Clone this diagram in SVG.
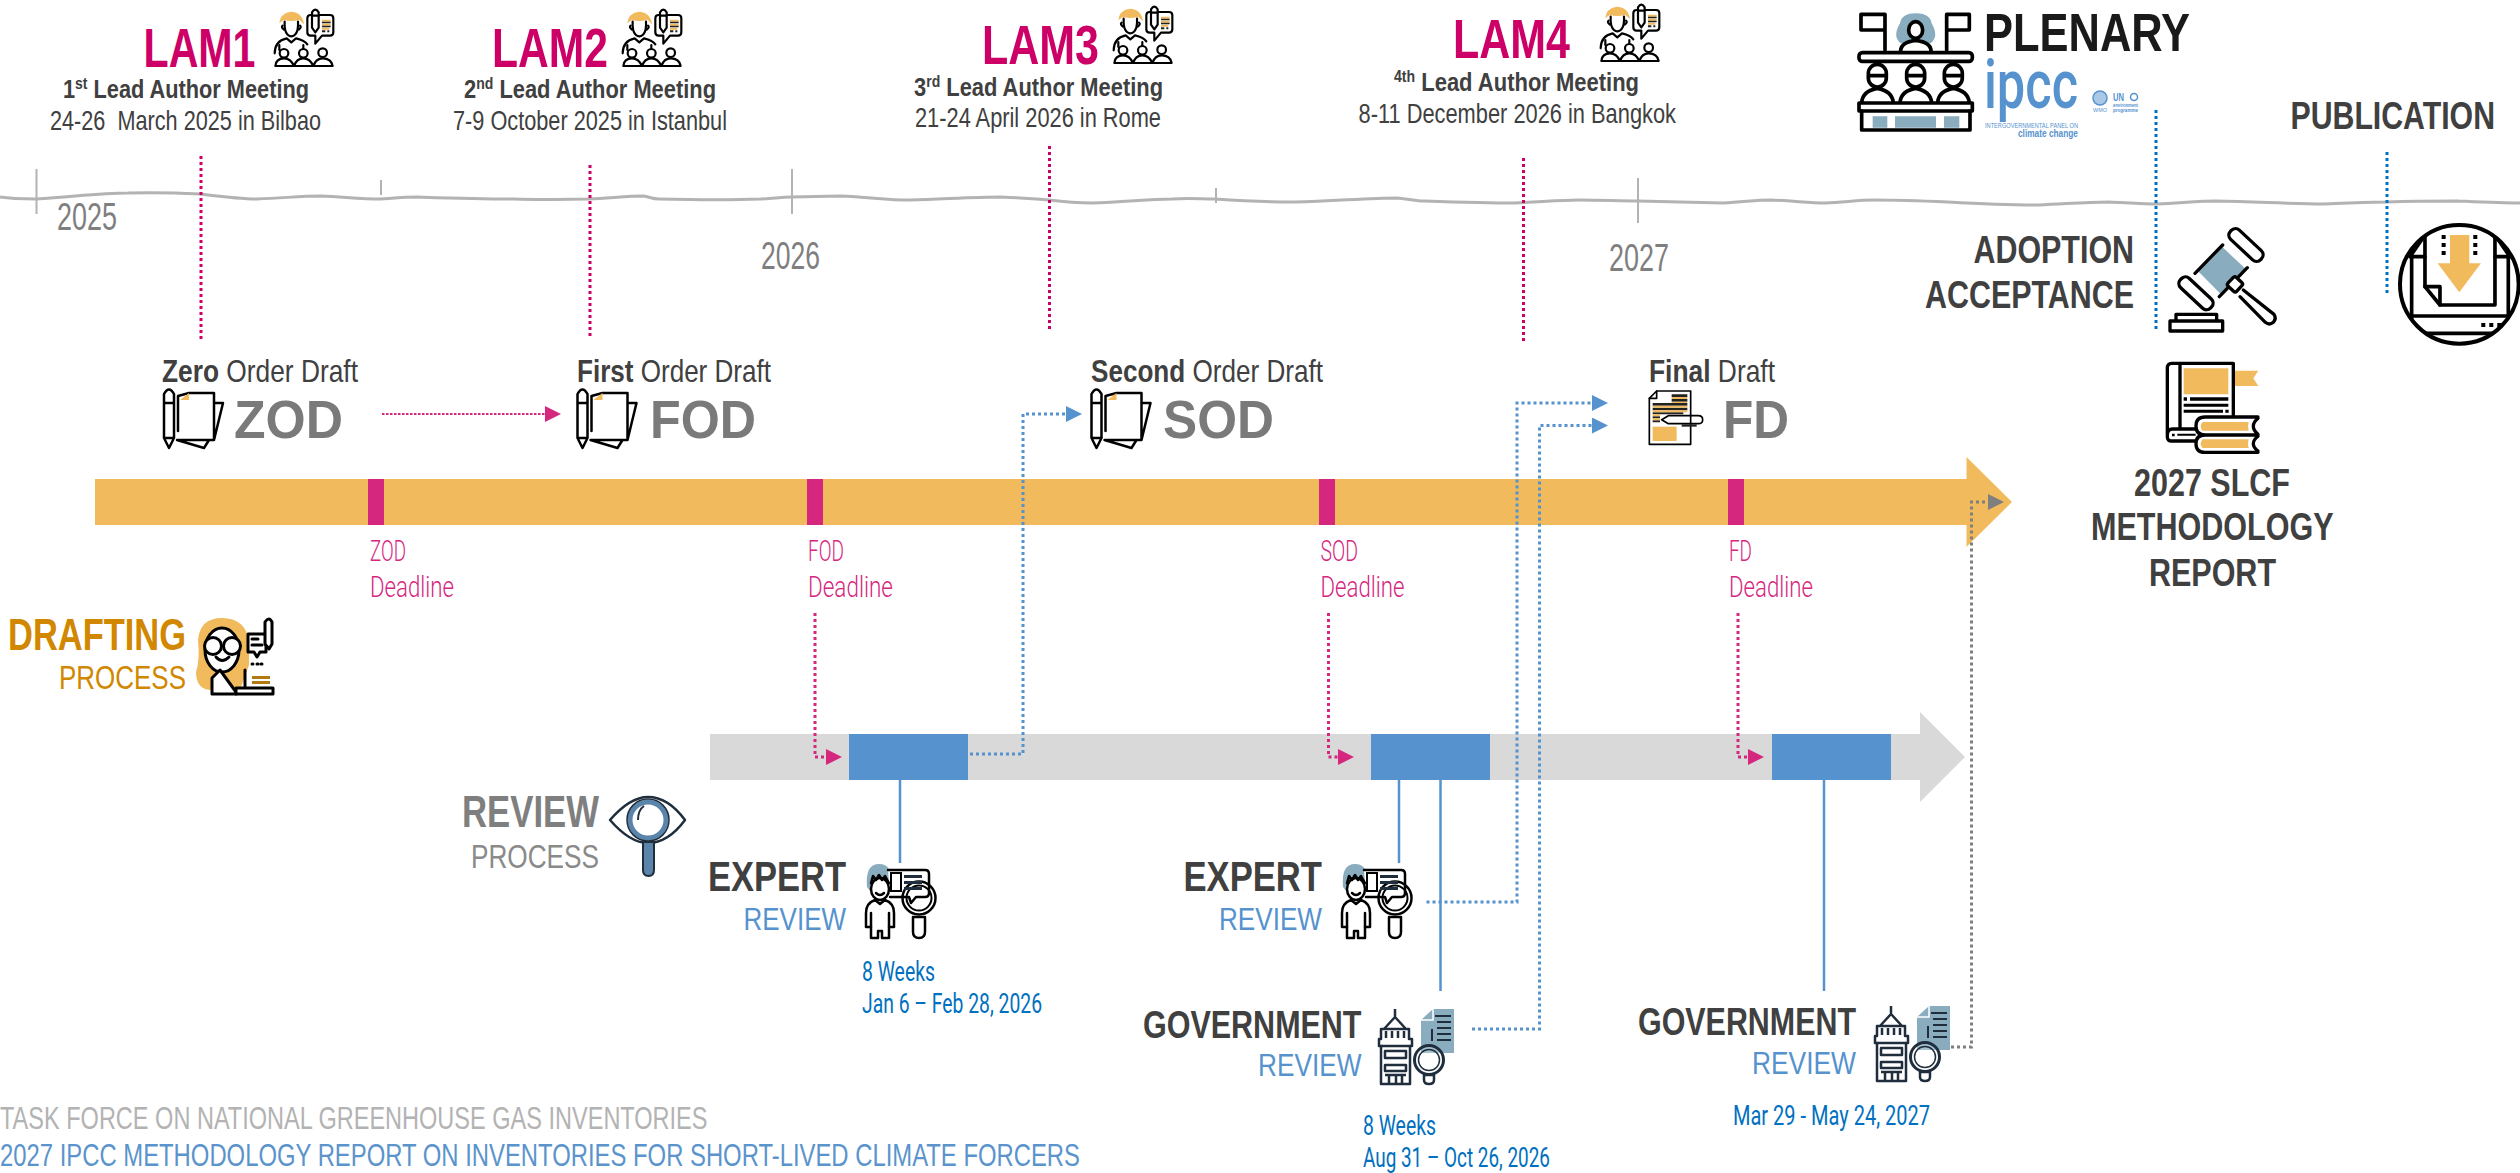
<svg xmlns="http://www.w3.org/2000/svg" xmlns:xlink="http://www.w3.org/1999/xlink" width="2520" height="1173" viewBox="0 0 2520 1173">
<style>
text{font-family:"Liberation Sans",Arial,sans-serif;fill:#404040}
.lam{font-size:55px;font-weight:700;fill:#cc0066}
.lb{font-size:26.500px;font-weight:700}
.ld{font-size:27.500px}
.yr{font-size:39px;fill:#7f7f7f}
.od{font-size:32px}
.b{font-weight:700}
.code{font-size:54px;font-weight:700;fill:#7a7a7a}
.dl{font-family:Roboto,"Liberation Sans",sans-serif;font-size:30px;font-weight:300;fill:#d6277f}
.dt{font-family:Roboto,"Liberation Sans",sans-serif;font-size:27px;font-weight:400;fill:#0070c0}
.h{font-size:42px;font-weight:700}
.h2{font-size:38.500px;font-weight:700}
.rv{font-size:32px;fill:#5592ce}
.ln{fill:none;stroke:#000;stroke-width:3;stroke-linejoin:round;stroke-linecap:round}
.ic{fill:none;stroke:#000;stroke-width:11;stroke-linejoin:round;stroke-linecap:round}
.org{fill:#f1bb5d}
.sl{fill:#8aacbf}
.dp{fill:none;stroke:#cc0066;stroke-width:3;stroke-dasharray:3 3}
.db{fill:none;stroke:#0070c0;stroke-width:3;stroke-dasharray:3 3}
.dpk{fill:none;stroke:#d6277f;stroke-width:3;stroke-dasharray:3 3}
.dpf{fill:none;stroke:#d6277f;stroke-width:2;stroke-dasharray:2.500 1.500}
.dbl{fill:none;stroke:#5592ce;stroke-width:3;stroke-dasharray:3 3}
.dgr{fill:none;stroke:#7f7f7f;stroke-width:3;stroke-dasharray:3 3}
.sol{fill:none;stroke:#5592ce;stroke-width:2.500}
.dk{fill:none;stroke:#1f2d3d;stroke-width:2.500;stroke-linejoin:round}
</style>
<defs>
<marker id="mp" markerUnits="userSpaceOnUse" markerWidth="16" markerHeight="16" refX="0" refY="8" orient="auto"><path d="M0 0L16 8L0 16Z" fill="#d6277f"/></marker>
<marker id="mb" markerUnits="userSpaceOnUse" markerWidth="16" markerHeight="16" refX="0" refY="8" orient="auto"><path d="M0 0L16 8L0 16Z" fill="#5592ce"/></marker>
<marker id="mg" markerUnits="userSpaceOnUse" markerWidth="16" markerHeight="16" refX="0" refY="8" orient="auto"><path d="M0 0L16 8L0 16Z" fill="#7f7f7f"/></marker>
<g id="i-lam" transform="scale(.3333)">
<path class="org" d="M28 55Q30 25 62 20Q98 22 102 58L88 44Q62 52 42 44Z"/>
<g class="ic" style="stroke-width:6.500">
<path d="M44 50Q42 92 64 94Q86 92 84 50"/>
<path d="M38 62Q32 66 42 74M90 62Q96 66 86 74"/>
<path d="M14 145Q14 108 50 100L64 112L78 100Q104 106 112 118"/>
<path d="M28 135V120M100 120V135"/>
<path d="M122 30H180Q190 30 190 40V82Q190 92 180 92H156L136 116V92H122Q112 92 112 82V40Q112 30 122 30Z" fill="#fff"/>
<path d="M126 22Q136 6 146 22V68L136 82L126 68Z" fill="#fff"/>
<path d="M126 32H146"/>
<circle cx="42" cy="145" r="13" fill="#fff"/><circle cx="100" cy="145" r="13" fill="#fff"/><circle cx="158" cy="143" r="13" fill="#fff"/>
<path d="M16 183Q18 160 42 160Q62 160 72 183Q80 160 100 160Q120 160 130 183Q138 160 158 160Q184 160 188 183Z" fill="#fff"/>
</g>
<path class="org" d="M156 44H182V50H156ZM156 56H182V62H156ZM156 68H178V74H156Z"/>
<path d="M156 50H182V55H156ZM156 62H182V67H156ZM156 76H166V82H156ZM172 76H178V82H172Z" fill="#222"/>
</g>
<g id="i-doc">
<path class="ln" style="stroke-width:2.500" d="M15 43V8L26 5L51 5V52H14L41 60L46 52M51 15L60 15L51 52" fill="#fff"/>
<path d="M1 6Q6 -3 11 6V50H1Z M1 50L6 60L11 50Z" fill="#fff" stroke="#000" stroke-width="2.500" stroke-linejoin="round"/>
<path d="M1 15H11" stroke="#000" stroke-width="2.500"/>
<path class="org" d="M17 12L26 5V12Z"/>
</g>
<g id="i-exp">
<path class="sl" d="M3 24Q1 1 15 1Q29 1 28 22L26 28H6Z"/>
<g class="ln" style="stroke-width:2.500">
<path d="M24 7H61Q65 7 65 11V30Q65 34 61 34H52L47 40L45 34H26" fill="#fff"/>
<ellipse cx="16" cy="26" rx="9" ry="11" fill="#fff"/>
<path d="M7 20L9 13L12 17L15 12L18 17L21 13L25 20"/>
<path d="M12 30Q16 34 20 30"/>
<path d="M2 64V50Q2 40 11 37L16 41L21 37Q30 40 30 50V64H25V75H18V68H14V75H7V64Z" fill="#fff"/>
<path d="M7 50V64M25 50V64"/>
<circle cx="55" cy="35" r="16.500"/>
<circle cx="55" cy="35" r="12.500" stroke-width="2"/>
<path d="M49 54H61V69Q61 75 55 75Q49 75 49 69Z" fill="#fff"/>
</g>
<path d="M40 12H58V15H40ZM40 18H58V21H40ZM40 24H58V27H40Z" fill="#1f2d3d"/>
<path d="M27 10H37V28H27Z" fill="none" stroke="#000" stroke-width="2"/>
</g>
<g id="i-gov">
<path class="sl" d="M56 0H77V44H44V11Z"/>
<path d="M44 11H56V0" fill="none" stroke="#fff" stroke-width="1.500"/>
<path d="M58 6H74V8H58ZM60 12H74V14H60ZM60 18H74V20H60ZM60 24H74V26H60ZM60 30H74V32H60ZM54 20H56V32H54Z" fill="#1f2d3d"/>
<g class="dk">
<path d="M18 0V9M7 20L18 8L29 20ZM4 30V20H32V30H35V37H33V75H4V37H2V30Z" fill="#fff"/>
<path d="M9 22V29M15 22V29M21 22V29M27 22V29M4 37H33M8 42H29V49H8ZM8 56H29V62H8ZM8 66H29M12 66V75M19 66V75M25 66V75"/>
<circle cx="52" cy="51" r="14.500" stroke-width="3" fill="#fff" fill-opacity=".25"/>
<circle cx="52" cy="51" r="10.500" stroke-width="1.500"/>
<path d="M47 66H57V71Q57 75 52 75Q47 75 47 71Z" fill="#fff"/>
</g>
</g>
</defs>
<rect width="2520" height="1173" fill="#fff"/>

<g id="timeline">
<path fill="none" stroke="#b3b3b3" stroke-width="3" d="M0 197C12 199 25 199 36 199C80 196 100 193 128 193C160 192 180 193 200 194C225 197 240 199 257 199C285 198 300 196 321 196C345 197 360 199 381 199C395 198 405 197 418 197C450 198 480 199 514 199C545 200 570 199 589 199C610 198 630 196 643 196C650 197 652 199 659 199C700 200 735 200 761 199C775 198 785 197 792 197L840 196C870 197 885 200 910 200C945 199 975 197 1001 197C1025 198 1035 199 1049 200C1065 202 1078 203 1092 203C1125 202 1150 199 1172 199C1190 198 1200 199 1215 199C1245 201 1270 202 1295 202C1335 201 1370 198 1397 198C1410 199 1415 201 1424 201C1455 202 1490 203 1515 203C1540 202 1560 200 1579 200C1600 200 1620 201 1638 201L1680 202L1723 203C1745 202 1755 200 1771 200C1795 201 1810 203 1825 203C1845 202 1860 200 1873 200C1900 200 1925 201 1948 202C1985 204 2015 205 2039 205C2065 204 2085 202 2109 202C2130 203 2145 204 2157 204C2180 203 2200 201 2216 201C2260 202 2295 204 2323 204C2350 203 2370 202 2387 202C2415 201 2440 201 2457 201C2480 202 2500 203 2520 203"/>
<path fill="none" stroke="#b3b3b3" stroke-width="2" d="M36.500 169V214M381 180V195M792 169V214M1216 188V203M1638 178V223"/>
<text class="yr" x="57" y="230" textLength="60" lengthAdjust="spacingAndGlyphs">2025</text>
<text class="yr" x="761" y="269" textLength="59" lengthAdjust="spacingAndGlyphs">2026</text>
<text class="yr" x="1609" y="271" textLength="60" lengthAdjust="spacingAndGlyphs">2027</text>
</g>

<g id="drafting-bar">
<path fill="#f1bb5d" d="M95 479H1966.500V457L2012 502L1966.500 547V525H95Z"/>
<rect x="368" y="479" width="16" height="46" fill="#d6277f"/>
<rect x="807" y="479" width="16" height="46" fill="#d6277f"/>
<rect x="1319" y="479" width="16" height="46" fill="#d6277f"/>
<rect x="1728" y="479" width="16" height="46" fill="#d6277f"/>
</g>
<g id="review-bar">
<path fill="#d9d9d9" d="M710 734H1920V712L1965 757L1920 802V780H710Z"/>
<rect x="849" y="734" width="119" height="46" fill="#5592ce"/>
<rect x="1371" y="734" width="119" height="46" fill="#5592ce"/>
<rect x="1772" y="734" width="119" height="46" fill="#5592ce"/>
</g>

<g id="connectors">
<path class="dp" d="M201 156V340M590 165V337M1049.500 146V330M1523.500 158V341"/>
<path class="db" d="M2156 110V330M2387 152V293"/>
<path class="dpf" d="M382 414H545" marker-end="url(#mp)"/>
<path class="dpk" d="M815 613V757H826" marker-end="url(#mp)"/>
<path class="dpk" d="M1328.500 613V757H1338" marker-end="url(#mp)"/>
<path class="dpk" d="M1738 613V757H1748" marker-end="url(#mp)"/>
<path class="dbl" d="M970 754H1023V414H1066" marker-end="url(#mb)"/>
<path class="dbl" d="M1426.500 902H1517V403H1592" marker-end="url(#mb)"/>
<path class="dbl" d="M1472 1029H1539.500V425.500H1592" marker-end="url(#mb)"/>
<path class="dgr" d="M1945 1047H1971.500V502H1988" marker-end="url(#mg)"/>
<path class="sol" d="M900 780V863M1399 780V863M1440.500 780V991M1824 780V991"/>
</g>

<g id="lam1"><use href="#i-lam" transform="translate(270 5)"/>
<text class="lam" x="143.500" y="67" textLength="112" lengthAdjust="spacingAndGlyphs">LAM1</text>
<text class="lb" x="63" y="98" textLength="246" lengthAdjust="spacingAndGlyphs">1<tspan font-size="17" dy="-9">st</tspan><tspan dy="9"> Lead Author Meeting</tspan></text>
<text class="ld" x="50" y="130" textLength="271" lengthAdjust="spacingAndGlyphs" xml:space="preserve">24-26  March 2025 in Bilbao</text></g>
<g id="lam2"><use href="#i-lam" transform="translate(618 5)"/>
<text class="lam" x="492" y="67" textLength="116" lengthAdjust="spacingAndGlyphs">LAM2</text>
<text class="lb" x="464" y="98" textLength="252" lengthAdjust="spacingAndGlyphs">2<tspan font-size="17" dy="-9">nd</tspan><tspan dy="9"> Lead Author Meeting</tspan></text>
<text class="ld" x="453" y="130" textLength="274" lengthAdjust="spacingAndGlyphs">7-9 October 2025 in Istanbul</text></g>
<g id="lam3"><use href="#i-lam" transform="translate(1109 2)"/>
<text class="lam" x="982" y="64" textLength="117" lengthAdjust="spacingAndGlyphs">LAM3</text>
<text class="lb" x="914" y="96" textLength="249" lengthAdjust="spacingAndGlyphs">3<tspan font-size="17" dy="-9">rd</tspan><tspan dy="9"> Lead Author Meeting</tspan></text>
<text class="ld" x="915" y="127" textLength="246" lengthAdjust="spacingAndGlyphs">21-24 April 2026 in Rome</text></g>
<g id="lam4"><use href="#i-lam" transform="translate(1596 0)"/>
<text class="lam" x="1453" y="58" textLength="117" lengthAdjust="spacingAndGlyphs">LAM4</text>
<text class="lb" x="1394" y="91" textLength="245" lengthAdjust="spacingAndGlyphs"><tspan font-size="17" dy="-9">4th</tspan><tspan dy="9"> Lead Author Meeting</tspan></text>
<text class="ld" x="1358.500" y="123" textLength="317.500" lengthAdjust="spacingAndGlyphs">8-11 December 2026 in Bangkok</text></g>

<g id="zod"><text class="od" x="162" y="382" textLength="196" lengthAdjust="spacingAndGlyphs"><tspan class="b">Zero</tspan> Order Draft</text>
<use href="#i-doc" transform="translate(163 388)"/>
<text class="code" x="234" y="438" textLength="109" lengthAdjust="spacingAndGlyphs">ZOD</text></g>
<g id="fod"><text class="od" x="577" y="382" textLength="194" lengthAdjust="spacingAndGlyphs"><tspan class="b">First</tspan> Order Draft</text>
<use href="#i-doc" transform="translate(576.500 388)"/>
<text class="code" x="650" y="438" textLength="106" lengthAdjust="spacingAndGlyphs">FOD</text></g>
<g id="sod"><text class="od" x="1091" y="382" textLength="232" lengthAdjust="spacingAndGlyphs"><tspan class="b">Second</tspan> Order Draft</text>
<use href="#i-doc" transform="translate(1090.500 388)"/>
<text class="code" x="1163" y="438" textLength="111" lengthAdjust="spacingAndGlyphs">SOD</text></g>
<g id="fd"><text class="od" x="1649" y="382" textLength="126" lengthAdjust="spacingAndGlyphs"><tspan class="b">Final</tspan> Draft</text>
<g transform="translate(1640 385) scale(.3333)">
<path class="ic" style="stroke-width:5" fill="#fff" d="M50 18H152V178H28V40Z"/>
<path class="ic" style="stroke-width:5" d="M50 18V40H28"/>
<path class="org" d="M38 125H110V168H38Z"/>
<path d="M95 28H142V36H95ZM95 42H142V50H95ZM38 54H142V62H38ZM38 68H142V76H38ZM38 82H130V88H38ZM38 94H60V100H38ZM38 106H60V112H38Z" fill="#222"/>
<path class="org" d="M95 36H142V42H95ZM95 50H142V54H95ZM38 62H142V68H38ZM38 76H142V82H38ZM38 88H60V94H38ZM38 100H60V106H38Z"/>
<path class="ic" style="stroke-width:5" fill="#fff" d="M65 104L85 92H175Q188 92 188 104Q188 116 175 116H85Z"/>
<path d="M125 118H170V125H125Z" fill="#222"/>
</g>
<text class="code" x="1723" y="438" textLength="66" lengthAdjust="spacingAndGlyphs">FD</text></g>

<g id="zod-deadline"><text class="dl" x="370" y="561" textLength="36" lengthAdjust="spacingAndGlyphs">ZOD</text><text class="dl" x="370" y="597" textLength="84" lengthAdjust="spacingAndGlyphs">Deadline</text></g>
<g id="fod-deadline"><text class="dl" x="808" y="561" textLength="36" lengthAdjust="spacingAndGlyphs">FOD</text><text class="dl" x="808" y="597" textLength="85" lengthAdjust="spacingAndGlyphs">Deadline</text></g>
<g id="sod-deadline"><text class="dl" x="1320.500" y="561" textLength="37.500" lengthAdjust="spacingAndGlyphs">SOD</text><text class="dl" x="1320.500" y="597" textLength="84" lengthAdjust="spacingAndGlyphs">Deadline</text></g>
<g id="fd-deadline"><text class="dl" x="1729" y="561" textLength="23" lengthAdjust="spacingAndGlyphs">FD</text><text class="dl" x="1729" y="597" textLength="84" lengthAdjust="spacingAndGlyphs">Deadline</text></g>

<g id="drafting-process">
<text x="8" y="650" font-size="44" font-weight="700" style="fill:#d18700" textLength="178" lengthAdjust="spacingAndGlyphs">DRAFTING</text>
<text x="59" y="689" font-size="33" style="fill:#d18700" textLength="127" lengthAdjust="spacingAndGlyphs">PROCESS</text>
<path class="org" d="M198 640Q200 618 222 618Q246 618 249 642V665L240 690H212Q196 690 196 672Q200 660 198 640Z"/>
<g class="ln">
<ellipse cx="222" cy="650" rx="17" ry="22" fill="#fff"/>
<circle cx="213" cy="646" r="8.500" fill="#fff"/><circle cx="232" cy="646" r="8.500" fill="#fff"/>
<path d="M216 657Q222 664 229 657"/>
<path d="M212 694V678L220 670L236 692V694Z" fill="#fff"/>
<path d="M248 634H266V652H260L257 657L254 652H248Z" fill="#fff"/>
<path d="M265 622Q269 616 272 622V644L269 649L265 644Z" fill="#fff"/>
<path d="M245 670V686M236 688H273V694H236Z" fill="#fff"/>
<path d="M252 664H253M257 664H258M261 664H262"/>
<path d="M252 639H258M252 645H262"/>
</g>
<path d="M252 676H270V679H252ZM252 681H270V684H252Z" fill="#b07a10"/>
</g>

<g id="review-process">
<text x="462" y="827" font-size="44" font-weight="700" style="fill:#7f7f7f" textLength="137" lengthAdjust="spacingAndGlyphs">REVIEW</text>
<text x="471" y="868" font-size="33" style="fill:#8a8a8a" textLength="128" lengthAdjust="spacingAndGlyphs">PROCESS</text>
<path class="dk" d="M610 820Q630 797 648 797Q668 797 685 820Q668 843 648 843Q630 843 610 820Z"/>
<circle cx="648" cy="820" r="18" fill="#fff" stroke="#5b84aa" stroke-width="5"/>
<circle cx="648" cy="820" r="21" fill="none" stroke="#1f2d3d" stroke-width="1.500"/>
<path d="M643 842H654V870Q654 876 648.500 876Q643 876 643 870Z" fill="#5b84aa" stroke="#1f2d3d" stroke-width="2"/>
<path d="M638 820Q638 810 644 806" fill="none" stroke="#1f2d3d" stroke-width="2"/>
</g>

<g id="expert-1"><text class="h" x="708" y="891" textLength="138" lengthAdjust="spacingAndGlyphs">EXPERT</text>
<text class="rv" x="743.500" y="930" textLength="102.500" lengthAdjust="spacingAndGlyphs">REVIEW</text>
<use href="#i-exp" transform="translate(864 863)"/>
<text class="dt" x="862" y="981" textLength="73" lengthAdjust="spacingAndGlyphs">8 Weeks</text>
<text class="dt" x="862" y="1013" textLength="180" lengthAdjust="spacingAndGlyphs">Jan 6 – Feb 28, 2026</text></g>
<g id="expert-2"><text class="h" x="1183.500" y="891" textLength="138.500" lengthAdjust="spacingAndGlyphs">EXPERT</text>
<text class="rv" x="1219" y="930" textLength="103" lengthAdjust="spacingAndGlyphs">REVIEW</text>
<use href="#i-exp" transform="translate(1340 863)"/></g>
<g id="government-1"><text class="h2" x="1143" y="1038" textLength="218.500" lengthAdjust="spacingAndGlyphs">GOVERNMENT</text>
<text class="rv" x="1258" y="1076" textLength="103.500" lengthAdjust="spacingAndGlyphs">REVIEW</text>
<use href="#i-gov" transform="translate(1377 1009)"/>
<text class="dt" x="1363" y="1135" textLength="73" lengthAdjust="spacingAndGlyphs">8 Weeks</text>
<text class="dt" x="1363" y="1167" textLength="187" lengthAdjust="spacingAndGlyphs">Aug 31 – Oct 26, 2026</text></g>
<g id="government-2"><text class="h2" x="1638" y="1035" textLength="218" lengthAdjust="spacingAndGlyphs">GOVERNMENT</text>
<text class="rv" x="1752" y="1074" textLength="104" lengthAdjust="spacingAndGlyphs">REVIEW</text>
<use href="#i-gov" transform="translate(1873 1006)"/>
<text class="dt" x="1733" y="1125" textLength="197" lengthAdjust="spacingAndGlyphs">Mar 29 - May 24, 2027</text></g>

<g id="plenary">
<g transform="translate(1850 5) scale(.3333)">
<path class="sl" d="M150 55Q155 25 197 25Q240 25 245 55Q268 95 242 115H152Q126 95 150 55Z"/>
<g class="ic">
<path d="M105 135V28H33V75H105M290 135V28H358V75H290"/>
<ellipse cx="197" cy="75" rx="21" ry="25" fill="#fff"/>
<path d="M152 138Q152 112 197 106Q243 112 243 138" fill="#fff"/>
<rect x="27" y="143" width="340" height="26" rx="10" fill="#fff"/>
<path d="M55 205a27 27 0 0 1 54 0v14a27 27 0 0 1 -54 0ZM170 205a27 27 0 0 1 54 0v14a27 27 0 0 1 -54 0ZM283 205a27 27 0 0 1 54 0v14a27 27 0 0 1 -54 0ZM55 212H109M170 212H224M283 212H337" fill="#fff"/>
<path d="M35 292Q38 258 82 250Q126 258 130 292M150 292Q153 258 197 250Q241 258 245 292M263 292Q266 258 310 250Q354 258 358 292"/>
<rect x="27" y="294" width="340" height="24" fill="#fff"/>
<path d="M35 318V375H360V318"/>
</g>
<path class="sl" d="M68 334H112V368H68ZM135 334H258V368H135ZM282 334H328V368H282Z"/>
</g>
<text x="1984" y="51" font-size="54" font-weight="700" style="fill:#1a1a1a" textLength="206" lengthAdjust="spacingAndGlyphs">PLENARY</text>
<text x="1984" y="108" font-size="68" font-weight="500" style="font-family:Roboto,'Liberation Sans',sans-serif;fill:#5592ce" textLength="94" lengthAdjust="spacingAndGlyphs">ipcc</text>
<text x="1985" y="128" font-size="6.500" style="fill:#5592ce" textLength="93" lengthAdjust="spacingAndGlyphs">INTERGOVERNMENTAL PANEL ON</text>
<text x="2018" y="136.500" font-size="10" font-weight="700" style="fill:#5592ce" textLength="60" lengthAdjust="spacingAndGlyphs">climate change</text>
<circle cx="2100" cy="98" r="7" fill="#a9c8e6" stroke="#5592ce" stroke-width="1.500"/>
<text x="2093" y="111.500" font-size="5" style="fill:#5592ce" textLength="14" lengthAdjust="spacingAndGlyphs">WMO</text>
<text x="2113" y="101" font-size="11" font-weight="700" style="fill:#5592ce" textLength="11" lengthAdjust="spacingAndGlyphs">UN</text>
<circle cx="2134" cy="97" r="3.500" fill="none" stroke="#5592ce" stroke-width="1.500"/>
<text x="2113" y="106.500" font-size="4.500" font-weight="700" style="fill:#5592ce" textLength="25" lengthAdjust="spacingAndGlyphs">environment</text>
<text x="2113" y="111.500" font-size="4.500" font-weight="700" style="fill:#5592ce" textLength="25" lengthAdjust="spacingAndGlyphs">programme</text>
</g>

<g id="publication">
<text class="h2" x="2290.500" y="129" textLength="204.500" lengthAdjust="spacingAndGlyphs">PUBLICATION</text>
<g transform="translate(2150 215) scale(.3333)">
<clipPath id="cp"><circle cx="928" cy="208" r="180"/></clipPath>
<g clip-path="url(#cp)">
<path class="ic" d="M825 125H785V355H1075V125H1035M785 303H1075M825 60L780 125M1035 60L1080 125"/>
<path class="ic" fill="#fff" d="M825 50V215L870 270H1035V50"/>
<path class="ic" d="M825 215H870V270"/>
</g>
<circle cx="928" cy="208" r="178" fill="none" stroke="#000" stroke-width="12"/>
<path class="org" d="M900 60H958V145H993L928 232L863 145H900Z"/>
<path d="M875 60h12v12h-12zM875 84h12v12h-12zM875 108h12v12h-12zM970 60h12v12h-12zM970 84h12v12h-12zM970 108h12v12h-12zM994 324h12v12h-12zM1018 324h12v12h-12zM1042 324h12v12h-12z" fill="#000"/>
</g>
</g>

<g id="adoption">
<text class="h2" x="1973.500" y="263" textLength="160.500" lengthAdjust="spacingAndGlyphs">ADOPTION</text>
<text class="h2" x="1925" y="308" textLength="209" lengthAdjust="spacingAndGlyphs">ACCEPTANCE</text>
<g transform="translate(2150 215) scale(.3333)">
<path class="sl" d="M218 97L285 160L212 237L146 170Z"/>
<g class="ic" style="stroke-width:10">
<path d="M218 90L135 175M292 158L208 245"/>
<rect x="-62" y="-19" width="124" height="38" rx="17" transform="translate(288 90) rotate(43)" fill="#fff"/>
<rect x="-62" y="-19" width="124" height="38" rx="17" transform="translate(138 235) rotate(43)" fill="#fff"/>
<path d="M280 225L372 298Q380 310 370 322Q358 332 346 322L270 245" fill="#fff"/>
<rect x="-18" y="-18" width="36" height="36" rx="7" transform="translate(255 208) rotate(43)" fill="#fff"/>
<path d="M78 318V298H200V318M60 348V318H218V348Z"/>
</g>
</g>
</g>

<g id="report">
<g transform="translate(2150 215) scale(.3333)">
<path class="org" d="M250 467H325L310 490L325 513H250Z"/>
<g class="ic" style="stroke-width:10">
<path d="M250 605V445H65Q52 445 52 460V665Q52 678 65 678H135M90 445V640M135 642H68Q52 642 52 660"/>
</g>
<path class="org" d="M101 460H235V538H101Z"/>
<path d="M101 547h10v10h-10zM120 547h115v10H120zM101 566h134v9H101zM101 584h118v9H101zM226 584h10v9h-10zM66 656h8v8h-8zM82 656h55v6H82z" fill="#000"/>
<g class="ic" style="stroke-width:10">
<path d="M324 606H165Q138 606 138 633Q138 660 165 660H324M165 660Q138 660 138 686Q138 712 165 712H324M324 610Q296 633 324 658M324 664Q296 686 324 708"/>
</g>
<path class="org" d="M158 621H296Q292 633 296 647H158Q146 634 158 621ZM158 673H296Q292 686 296 699H158Q146 686 158 673Z"/>
</g>
<text class="h2" x="2134" y="496" textLength="156" lengthAdjust="spacingAndGlyphs">2027 SLCF</text>
<text class="h2" x="2091" y="540" textLength="242.500" lengthAdjust="spacingAndGlyphs">METHODOLOGY</text>
<text class="h2" x="2149" y="586" textLength="127" lengthAdjust="spacingAndGlyphs">REPORT</text>
</g>

<g id="footer">
<text x="0" y="1129" font-size="32" style="fill:#b3b3b3" textLength="707.500" lengthAdjust="spacingAndGlyphs">TASK FORCE ON NATIONAL GREENHOUSE GAS INVENTORIES</text>
<text x="0" y="1166" font-size="32" style="fill:#5b94cc" textLength="1080" lengthAdjust="spacingAndGlyphs">2027 IPCC METHODOLOGY REPORT ON INVENTORIES FOR SHORT-LIVED CLIMATE FORCERS</text>
</g>
</svg>
